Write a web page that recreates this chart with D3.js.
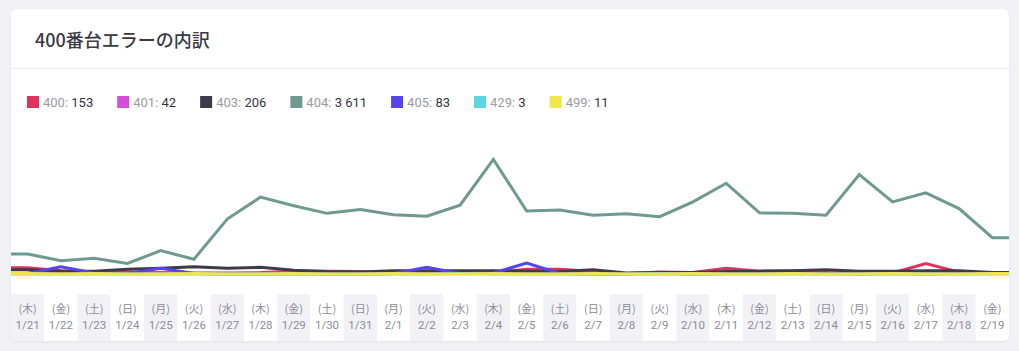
<!DOCTYPE html>
<html>
<head>
<meta charset="utf-8">
<script src="https://cdn.jsdelivr.net/npm/d3@7"></script>
<style>
  html, body { margin: 0; padding: 0; background: #f1f1f6; }
  svg { display: block; }
</style>
</head>
<body>
<div id="chart"></div>
<script>
// dates and weekdays for the x axis
const dates = ['1/21','1/22','1/23','1/24','1/25','1/26','1/27','1/28','1/29','1/30',
  '1/31','2/1','2/2','2/3','2/4','2/5','2/6','2/7','2/8','2/9',
  '2/10','2/11','2/12','2/13','2/14','2/15','2/16','2/17','2/18','2/19'];
const weekdays = ['(木)','(金)','(土)','(日)','(月)','(火)','(水)','(木)','(金)','(土)',
  '(日)','(月)','(火)','(水)','(木)','(金)','(土)','(日)','(月)','(火)',
  '(水)','(木)','(金)','(土)','(日)','(月)','(火)','(水)','(木)','(金)'];

// per-day counts by status code
const s400 = [13,7,4,4,3,2,2,3,6,6, 5,2,1,1,2,10,10,5,1,4, 3,12,6,6,3,2,2,22,4,2];
const s401 = [1,2,1,1,2,1,1,1,2,2, 1,1,1,1,1,3,2,2,1,1, 1,2,1,2,1,1,1,2,2,1];
const s403 = [9,6,6,10,12,15,12,14,8,5, 4,7,7,7,7,6,5,9,2,3, 3,5,6,7,9,6,6,7,7,3];
const s404 = [42,28,33,22,49,31,115,161,143,127, 135,124,121,144,240,132,134,123,126,120,
  151,190,128,127,123,208,151,170,137,76];
const s405 = [1,15,2,1,12,1,0,0,1,0, 0,1,14,1,2,23,1,0,0,1, 0,1,1,1,1,0,1,0,1,1];
const s429 = [0,0,0,0,0,0,0,0,0,0, 0,0,0,1,0,0,0,0,0,1, 0,0,0,0,0,0,1,0,0,0];
const s499 = [1,0,1,0,0,1,0,0,1,0, 0,1,0,0,1,0,0,1,0,0, 1,0,0,1,0,0,1,0,0,1];

// legend
const codes = ['400','401','403','404','405','429','499'];
const totals = ['153','42','206','3 611','83','3','11'];
const colors = ['#e0335b','#d54dd9','#3d3b4a','#6e9a91','#5843ec','#5dd7dd','#f2e54a'];
const seriesList = [s400, s401, s403, s404, s405, s429, s499];

const width = 1019, height = 351;
const card = { x: 11, y: 9, w: 998, h: 332 };

const svg = d3.select('#chart')
  .append('svg')
  .attr('width', width)
  .attr('height', height);

// card shadow
const defs = svg.append('defs');
const shadow = defs.append('filter')
  .attr('id', 'shadow')
  .attr('x', '-5%').attr('y', '-5%')
  .attr('width', '110%').attr('height', '115%');
shadow.append('feDropShadow')
  .attr('dx', 0).attr('dy', 1)
  .attr('stdDeviation', 1.5)
  .attr('flood-color', '#000')
  .attr('flood-opacity', 0.06);

defs.append('clipPath')
  .attr('id', 'cardClip')
  .append('rect')
  .attr('x', card.x).attr('y', card.y)
  .attr('width', card.w).attr('height', card.h)
  .attr('rx', 6).attr('ry', 6);

svg.append('rect')
  .attr('x', card.x).attr('y', card.y)
  .attr('width', card.w).attr('height', card.h)
  .attr('rx', 6).attr('ry', 6)
  .attr('fill', '#fff')
  .attr('filter', 'url(#shadow)');

// title
svg.append('text')
  .attr('x', 35)
  .attr('y', 47)
  .attr('font-family', '"Noto Sans CJK JP", "Noto Sans", sans-serif')
  .attr('font-size', 18)
  .attr('font-weight', 500)
  .attr('fill', '#3a3946')
  .text('400番台エラーの内訳');

svg.append('line')
  .attr('x1', card.x).attr('x2', card.x + card.w)
  .attr('y1', 68.5).attr('y2', 68.5)
  .attr('stroke', '#eeeef3')
  .attr('stroke-width', 1);

// legend, laid out by measured text width
const legend = svg.append('g').attr('class', 'legend');
let lx = 27;
codes.forEach((c, i) => {
  const item = legend.append('g').attr('transform', `translate(${lx},96)`);
  item.append('rect')
    .attr('width', 12).attr('height', 12)
    .attr('fill', colors[i]);
  const t = item.append('text')
    .attr('x', 16)
    .attr('y', 11)
    .attr('font-family', 'Roboto, sans-serif')
    .attr('font-size', 13);
  t.append('tspan').attr('fill', '#9b9aa3').text(c + ': ');
  t.append('tspan').attr('fill', '#35343f').text(totals[i]);
  lx += 16 + t.node().getComputedTextLength() + 24;
});

const body = svg.append('g').attr('clip-path', 'url(#cardClip)');

// x axis cells
const x = d3.scaleBand()
  .domain(dates)
  .range([card.x, card.x + card.w])
  .padding(0);
const bw = x.bandwidth();

const cells = body.append('g').attr('class', 'x-cells');
cells.selectAll('rect')
  .data(dates)
  .enter()
  .append('rect')
  .attr('x', d => x(d))
  .attr('y', 294)
  .attr('width', bw)
  .attr('height', card.y + card.h - 294)
  .attr('fill', (d, i) => i % 2 === 0 ? '#f1f1f6' : '#fff');

cells.selectAll('text.wd')
  .data(dates)
  .enter()
  .append('text')
  .attr('class', 'wd')
  .attr('x', d => x(d) + bw / 2)
  .attr('y', 313)
  .attr('text-anchor', 'middle')
  .attr('font-family', '"Noto Sans CJK JP", sans-serif')
  .attr('font-size', 11)
  .attr('fill', '#8e8d98')
  .text((d, i) => weekdays[i]);

cells.selectAll('text.dt')
  .data(dates)
  .enter()
  .append('text')
  .attr('class', 'dt')
  .attr('x', d => x(d) + bw / 2)
  .attr('y', 329)
  .attr('text-anchor', 'middle')
  .attr('font-family', 'Roboto, sans-serif')
  .attr('font-size', 11.5)
  .attr('fill', '#8e8d98')
  .text(d => d);

// y scale
const y = d3.scaleLinear()
  .domain([0, 250])
  .range([274, 154.6]);

// line, stretched flat to both card edges
const line = d3.line()
  .x(d => d[0])
  .y(d => y(d[1]));

const toPoints = vals => {
  const pts = vals.map((v, i) => [x(dates[i]) + bw / 2, v]);
  pts.unshift([card.x, vals[0]]);
  pts.push([card.x + card.w, vals[vals.length - 1]]);
  return pts;
};

body.append('g')
  .attr('class', 'lines')
  .selectAll('path')
  .data(seriesList)
  .enter()
  .append('path')
  .attr('d', d => line(toPoints(d)))
  .attr('fill', 'none')
  .attr('stroke', (d, i) => colors[i])
  .attr('stroke-width', 3)
  .attr('stroke-linejoin', 'miter');
</script>
</body>
</html>
